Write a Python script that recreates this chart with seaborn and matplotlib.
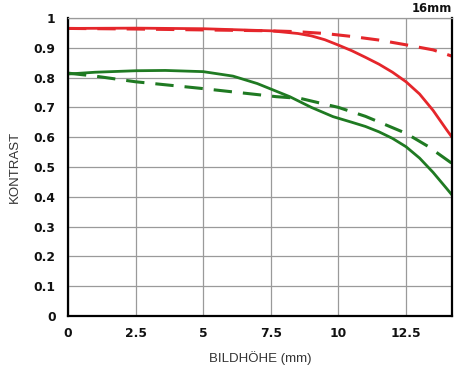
import numpy as np
import pandas as pd
import matplotlib
matplotlib.use("Agg")
import matplotlib.pyplot as plt
import seaborn as sns

sns.set_style("white")
plt.rcParams['font.family'] = ['Liberation Sans', 'DejaVu Sans']

x_red_solid = [0, 2.5, 5, 7.5, 8.5, 9, 9.5, 10, 10.5, 11, 11.5, 12, 12.5, 13, 13.5, 14, 14.2]
y_red_solid = [0.965, 0.966, 0.964, 0.957, 0.948, 0.94, 0.927, 0.909, 0.89, 0.868, 0.845, 0.818, 0.786, 0.745, 0.69, 0.625, 0.60]

x_red_dash = [0, 2.5, 5, 7.5, 8.5, 9.5, 10.5, 11.5, 12.5, 13.5, 14.2]
y_red_dash = [0.965, 0.963, 0.96, 0.957, 0.954, 0.948, 0.938, 0.926, 0.91, 0.893, 0.872]

x_green_solid = [0, 1, 2.5, 3.6, 5, 6.1, 7, 8.2, 9, 9.8, 10.5, 11, 11.5, 12, 12.5, 13, 13.5, 14, 14.2]
y_green_solid = [0.812, 0.818, 0.823, 0.824, 0.82, 0.805, 0.78, 0.736, 0.70, 0.669, 0.65, 0.636, 0.618, 0.596, 0.568, 0.53, 0.482, 0.428, 0.406]

x_green_dash = [0, 1, 2.5, 4.9, 7.7, 8.6, 10, 11, 12, 12.5, 13.3, 14.2]
y_green_dash = [0.815, 0.805, 0.786, 0.764, 0.736, 0.73, 0.70, 0.67, 0.632, 0.613, 0.57, 0.512]

x_ticks = [0, 2.5, 5, 7.5, 10, 12.5]
x_labels = ["0", "2.5", "5", "7.5", "10", "12.5"]
y_ticks = [0, 0.1, 0.2, 0.3, 0.4, 0.5, 0.6, 0.7, 0.8, 0.9, 1.0]
y_labels = ["0", "0.1", "0.2", "0.3", "0.4", "0.5", "0.6", "0.7", "0.8", "0.9", "1"]

red = "#e5262b"
green = "#1f7a22"

fig = plt.figure(figsize=(4.7, 3.67), dpi=100)
ax = fig.add_axes([68/470, 51/367, 384/470, 298/367])

sns.lineplot(x=x_red_solid, y=y_red_solid, ax=ax, color=red, linewidth=2.0)
sns.lineplot(x=x_red_dash, y=y_red_dash, ax=ax, color=red, linewidth=2.2)
ax.lines[-1].set_dashes([6, 3.6])
sns.lineplot(x=x_green_solid, y=y_green_solid, ax=ax, color=green, linewidth=2.0)
sns.lineplot(x=x_green_dash, y=y_green_dash, ax=ax, color=green, linewidth=2.2)
ax.lines[-1].set_dashes([6, 3.6])

tick_font = dict(family='DejaVu Sans', fontweight='bold', fontsize=8.8)
ax.set_xlim(0, 14.2)
ax.set_ylim(0, 1.0)
ax.set_xticks(x_ticks)
ax.set_xticklabels(x_labels, **tick_font, color='#111111')
ax.set_yticks(y_ticks)
ax.set_yticklabels(y_labels, **tick_font, color='#111111')
ax.tick_params(axis='y', length=0, pad=9)
ax.tick_params(axis='x', length=0, pad=8)
ax.grid(True, color="#9a9a9a", linewidth=0.9)
ax.set_axisbelow(True)
for s in ['left', 'bottom', 'right']:
    ax.spines[s].set_color('black')
    ax.spines[s].set_linewidth(1.6)
ax.spines['top'].set_color('#9a9a9a')
ax.spines['top'].set_linewidth(0.9)

ax.set_xlabel("BILDHÖHE (mm)", fontsize=9.5, color="#333333", labelpad=8)
ax.set_ylabel("KONTRAST", fontsize=9.5, color="#333333", labelpad=9)
fig.text(452/470, 1 - 8/367, "16mm", ha='right', va='center', family='DejaVu Sans', fontsize=8.3, fontweight='bold', color='#111111')

fig.savefig("out.png", dpi=100)
